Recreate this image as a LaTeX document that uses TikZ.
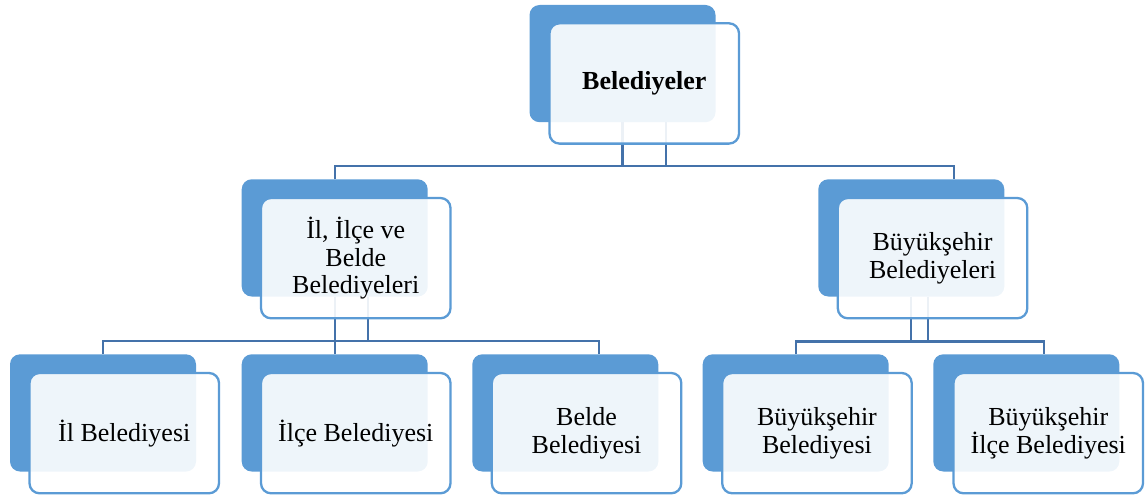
\documentclass[tikz,border=0pt]{standalone}
\usepackage{fontspec}
\setmainfont{Liberation Serif}
\usetikzlibrary{backgrounds}
\definecolor{boxblue}{RGB}{91,155,213}
\definecolor{linkblue}{RGB}{68,114,170}
\tikzset{
  backbox/.style={draw=none, fill=boxblue, rounded corners=10pt,
    minimum width=186pt, minimum height=117.2pt, anchor=north west,
    inner sep=0pt, outer sep=0pt},
  frontbox/.style={draw=boxblue, line width=2.3pt, fill=white,
    fill opacity=0.9, text opacity=1, rounded corners=10pt,
    minimum width=189.5pt, minimum height=120.3pt, anchor=north west,
    inner sep=0pt, outer sep=0pt, align=center,
    font=\fontsize{26}{27.5}\selectfont},
  conn/.style={draw=linkblue, line width=2.3pt}
}
\begin{document}
\begin{tikzpicture}[x=1pt, y=-1pt]
\useasboundingbox (0,0) rectangle (1148,495);

% rear (filled) panels
\node[backbox] (b-top) at (529.5,5) {};
\node[backbox] (b-il)  at (241.7,179.3) {};
\node[backbox] (b-bs)  at (818.3,179.3) {};
\node[backbox] (b-c1)  at (10,354.3) {};
\node[backbox] (b-c2)  at (241.7,354.3) {};
\node[backbox] (b-c3)  at (472.3,354.3) {};
\node[backbox] (b-c4)  at (702.7,354.3) {};
\node[backbox] (b-c5)  at (933.3,354.3) {};

% front (outlined) panels with their labels
\node[frontbox] (f-top) at (549.5,23.3) {\textbf{Belediyeler}};
\node[frontbox] (f-il)  at (261,198) {İl, İlçe ve\\Belde\\Belediyeleri};
\node[frontbox] (f-bs)  at (837.8,198) {Büyükşehir\\Belediyeleri};
\node[frontbox] (f-c1)  at (29.5,373) {İl Belediyesi};
\node[frontbox] (f-c2)  at (261,373) {İlçe Belediyesi};
\node[frontbox] (f-c3)  at (491.8,373) {Belde\\Belediyesi};
\node[frontbox] (f-c4)  at (722.2,373) {Büyükşehir\\Belediyesi};
\node[frontbox] (f-c5)  at (953.5,373) {Büyükşehir\\İlçe Belediyesi};

% bus lines of the hierarchy
\coordinate (bus-top) at (0,165.7);
\coordinate (bus-il)  at (0,340.7);
\coordinate (bus-bs)  at (0,341.5);

\begin{pgfonlayer}{background}
  % Belediyeler -> second level
  \draw[conn] (b-top.south) -- (b-top.south |- bus-top);
  \draw[conn] ([xshift=43.2pt]b-top.south) -- ([xshift=43.2pt]b-top.south |- bus-top);
  \draw[conn] (b-il.north) -- (b-il.north |- bus-top)
              -- ([xshift=43pt]b-bs.north |- bus-top) -- ([xshift=43pt]b-bs.north);
  % İl, İlçe ve Belde Belediyeleri -> children
  \draw[conn] (b-il.south) -- (b-il.south |- bus-il);
  \draw[conn] ([xshift=33.6pt]b-il.south) -- ([xshift=33.6pt]b-il.south |- bus-il);
  \draw[conn] (b-c1.north) -- (b-c1.north |- bus-il)
              -- ([xshift=34pt]b-c3.north |- bus-il) -- ([xshift=34pt]b-c3.north);
  \draw[conn] (b-c2.north) -- (b-c2.north |- bus-il);
  % Büyükşehir Belediyeleri -> children
  \draw[conn] (b-bs.south) -- (b-bs.south |- bus-bs);
  \draw[conn] ([xshift=17pt]b-bs.south) -- ([xshift=17pt]b-bs.south |- bus-bs);
  \draw[conn] (b-c4.north) -- (b-c4.north |- bus-bs)
              -- ([xshift=18pt]b-c5.north |- bus-bs) -- ([xshift=18pt]b-c5.north);
\end{pgfonlayer}
\end{tikzpicture}
\end{document}
